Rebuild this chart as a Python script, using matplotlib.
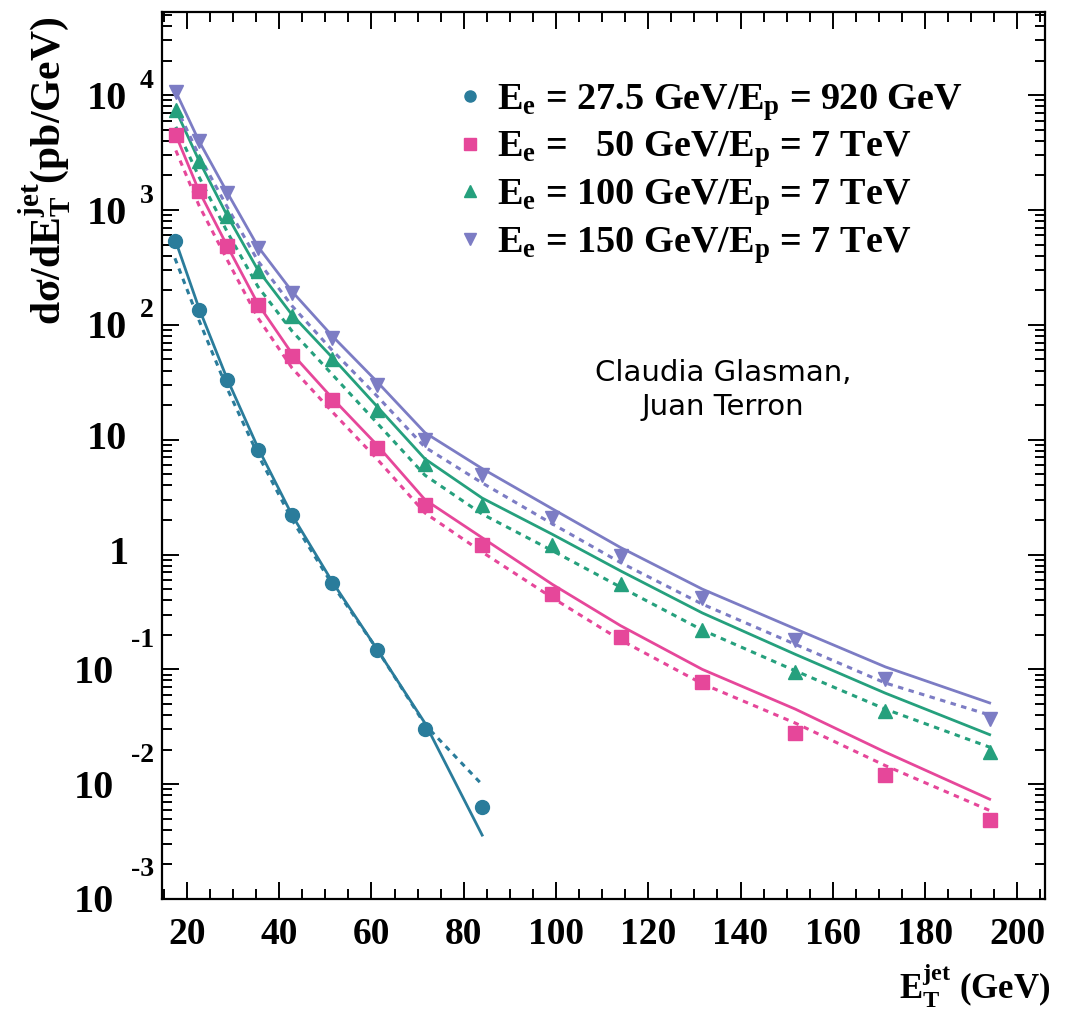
import numpy as np
import matplotlib
matplotlib.use("Agg")
import matplotlib.pyplot as plt
from matplotlib.lines import Line2D
from matplotlib.ticker import MultipleLocator, LogLocator, NullFormatter, FixedLocator

plt.rcParams['font.family'] = ['Liberation Serif', 'DejaVu Serif']
plt.rcParams['font.weight'] = 'bold'
plt.rcParams['mathtext.fontset'] = 'custom'
plt.rcParams['mathtext.rm'] = 'Liberation Serif:bold'
plt.rcParams['mathtext.it'] = 'Liberation Serif:bold'
plt.rcParams['mathtext.bf'] = 'Liberation Serif:bold'
plt.rcParams['mathtext.default'] = 'rm'

# ---------------- data ----------------
et_hera = [17.4, 22.6, 28.7, 35.4, 42.8, 51.5, 61.2, 71.6, 84.0]
hera_pts = [540, 135, 33, 8.2, 2.2, 0.57, 0.147, 0.030, 0.0063]
hera_solid = [560, 140, 34, 8.5, 2.2, 0.58, 0.15, 0.034, 0.0036]
hera_dashed = [380, 110, 28, 7.4, 2.0, 0.55, 0.15, 0.033, 0.0099]

et_lhec = [17.6, 22.6, 28.7, 35.4, 42.8, 51.5, 61.2, 71.6, 84.0, 99.2, 114.0, 131.7, 151.9, 171.4, 194.0]

e50_pts = [4500, 1470, 486, 149, 54, 22, 8.5, 2.7, 1.2, 0.45, 0.19, 0.077, 0.028, 0.012, 0.0049]
e50_solid = [4500, 1470, 490, 152, 56, 23, 9.0, 3.0, 1.4, 0.55, 0.24, 0.10, 0.045, 0.019, 0.0074]
e50_dashed = [3300, 1100, 370, 115, 42, 17.5, 6.8, 2.3, 1.05, 0.42, 0.18, 0.075, 0.034, 0.0145, 0.0059]

e100_pts = [7400, 2670, 890, 295, 119, 50, 18, 6.1, 2.7, 1.2, 0.55, 0.22, 0.094, 0.043, 0.019]
e100_solid = [7400, 2700, 900, 300, 122, 52, 19.5, 6.8, 3.1, 1.5, 0.72, 0.31, 0.135, 0.062, 0.027]
e100_dashed = [5300, 1950, 650, 215, 88, 37, 14, 4.9, 2.25, 1.08, 0.52, 0.22, 0.097, 0.045, 0.021]

e150_pts = [10700, 3980, 1410, 470, 190, 77, 30, 10, 4.9, 2.1, 0.98, 0.42, 0.18, 0.082, 0.037]
e150_solid = [10700, 4000, 1430, 480, 195, 80, 32, 11.5, 5.6, 2.5, 1.15, 0.50, 0.225, 0.105, 0.051]
e150_dashed = [8000, 3000, 1070, 360, 146, 60, 24, 8.6, 4.2, 1.85, 0.85, 0.37, 0.165, 0.076, 0.040]

labels = [r"$E_{e}$ = 27.5 GeV/$E_{p}$ = 920 GeV",
          r"$E_{e}$ =   50 GeV/$E_{p}$ = 7 TeV",
          r"$E_{e}$ = 100 GeV/$E_{p}$ = 7 TeV",
          r"$E_{e}$ = 150 GeV/$E_{p}$ = 7 TeV"]
colors = ["#2a7c9b", "#e6479a", "#25a07d", "#7c7cc4"]
markers = ["o", "s", "^", "v"]

y_decades = [1e-3, 1e-2, 1e-1, 1, 10, 1e2, 1e3, 1e4]
x_ticks = [20, 40, 60, 80, 100, 120, 140, 160, 180, 200]

# ---------------- figure ----------------
W, H = 1070, 1014
fig = plt.figure(figsize=(W / 100, H / 100), dpi=100)
L, R, T, B = 162, 1045, 12, 899
ax = fig.add_axes([L / W, 1 - B / H, (R - L) / W, (B - T) / H])
ax.set_yscale('log')
ax.set_xlim(14.6, 206)
ax.set_ylim(1e-3, 5.3e4)

series = [
    (et_hera, hera_pts, hera_solid, hera_dashed),
    (et_lhec, e50_pts, e50_solid, e50_dashed),
    (et_lhec, e100_pts, e100_solid, e100_dashed),
    (et_lhec, e150_pts, e150_solid, e150_dashed),
]
msizes = [10, 10, 10, 10]
for (x, p, s, d), c, m, ms in zip(series, colors, markers, msizes):
    ax.plot(x, s, '-', color=c, lw=2.0, zorder=2)
    ax.plot(x, d, color=c, lw=2.2, ls=(0, (1.8, 1.8)), zorder=2)
    ax.plot(x, p, ls='none', marker=m, color=c, ms=ms, mec=c, zorder=3)

# axes styling
for sp in ax.spines.values():
    sp.set_linewidth(1.6)
ax.xaxis.set_major_locator(FixedLocator(x_ticks))
ax.xaxis.set_minor_locator(MultipleLocator(5))
ax.yaxis.set_major_locator(FixedLocator(y_decades))
ax.yaxis.set_minor_locator(LogLocator(base=10, subs=np.arange(2, 10), numticks=30))
ax.yaxis.set_major_formatter(NullFormatter())
ax.yaxis.set_minor_formatter(NullFormatter())
ax.tick_params(which='both', direction='in', top=True, right=True, width=1.4)
ax.tick_params(which='major', length=12)
ax.tick_params(which='minor', length=7)
ax.tick_params(axis='x', which='major', labelsize=27, pad=13)
for lab in ax.get_xticklabels():
    lab.set_fontweight('bold')

# y tick labels in ROOT style
ytr = ax.get_yaxis_transform()
for v in y_decades:
    e = int(round(np.log10(v)))
    if e == 0:
        ax.annotate("1", xy=(0, v), xycoords=ytr, xytext=(-33, 0), textcoords='offset pixels',
                    ha='right', va='center', fontsize=29, fontweight='bold')
    elif e == 1:
        ax.annotate("10", xy=(0, v), xycoords=ytr, xytext=(-35, 0), textcoords='offset pixels',
                    ha='right', va='center', fontsize=29, fontweight='bold')
    elif e > 1:
        ax.annotate("10", xy=(0, v), xycoords=ytr, xytext=(-35, -4), textcoords='offset pixels',
                    ha='right', va='center', fontsize=29, fontweight='bold')
        ax.annotate(str(e), xy=(0, v), xycoords=ytr, xytext=(-22, 14), textcoords='offset pixels',
                    ha='left', va='center', fontsize=20, fontweight='bold')
    else:
        ax.annotate("10", xy=(0, v), xycoords=ytr, xytext=(-48, -4), textcoords='offset pixels',
                    ha='right', va='center', fontsize=29, fontweight='bold')
        ax.annotate(str(e), xy=(0, v), xycoords=ytr, xytext=(-31, 29), textcoords='offset pixels',
                    ha='left', va='center', fontsize=20, fontweight='bold')

# axis titles
fig.text(45 / W, 1 - 16 / H, r"d$\sigma$/d$E_{T}^{jet}$(pb/GeV)", rotation=90,
         ha='center', va='top', fontsize=30, fontweight='bold')
fig.text(1050 / W, 1 - 1010 / H, r"$E_{T}^{jet}$ (GeV)", ha='right', va='bottom',
         fontsize=25, fontweight='bold')

# legend
handles = [Line2D([], [], ls='none', marker=m, color=c, ms=8) for c, m in zip(colors, markers)]
leg = ax.legend(handles, labels, loc='upper left', bbox_to_anchor=((455 - L) / (R - L), 1 - (82 - T) / (B - T)),
                frameon=False, fontsize=27.5, handlelength=0.8, handletextpad=0.3,
                labelspacing=0.18, borderaxespad=0, borderpad=0)

# author text
ax.text((723 - L) / (R - L), 1 - (390 - T) / (B - T), "Claudia Glasman,\nJuan Terron",
        transform=ax.transAxes, ha='center', va='center', fontsize=21,
        family='DejaVu Sans', fontweight='normal', linespacing=1.25)

fig.savefig("out.png", dpi=100)
